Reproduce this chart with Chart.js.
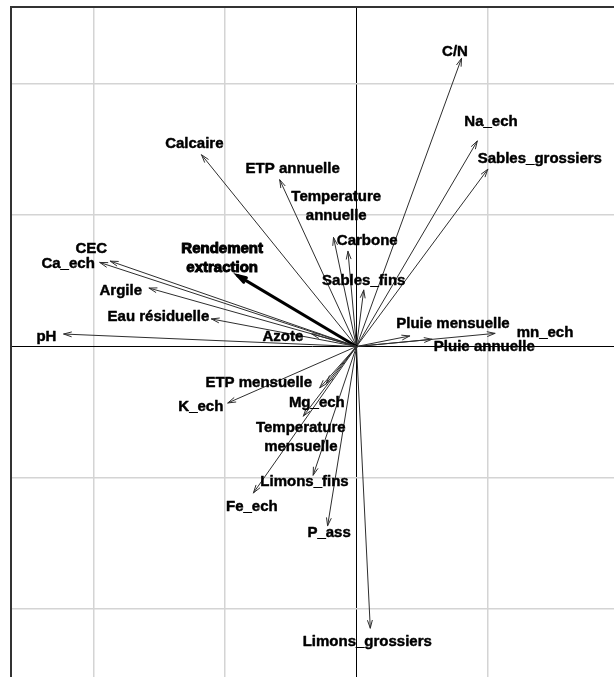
<!DOCTYPE html>
<html>
<head>
<meta charset="utf-8">
<script src="https://cdn.jsdelivr.net/npm/chart.js@4/dist/chart.umd.min.js"></script>
<style>
  html, body { margin: 0; padding: 0; background: #fff; overflow: hidden; }
  #wrap { width: 614px; height: 677px; }
</style>
</head>
<body>
<div id="wrap"><canvas id="c" width="614" height="677"></canvas></div>
<script>
// ---- data (PCA correlation arrows, axis 1 / axis 2) ----
const variables = ["C/N","Na_ech","Sables_grossiers","Calcaire","ETP annuelle","Temperature annuelle","Carbone","Sables_fins","Rendement extraction","CEC","Ca_ech","Argile","Eau résiduelle","pH","Azote","Pluie mensuelle","Pluie annuelle","mn_ech","ETP mensuelle","K_ech","Mg_ech","Temperature mensuelle","Limons_fins","Fe_ech","P_ass","Limons_grossiers"];
const axis1 = [0.160,0.184,0.200,-0.236,-0.117,-0.035,-0.013,0.011,-0.181,-0.375,-0.391,-0.316,-0.221,-0.446,-0.068,0.081,0.115,0.211,-0.056,-0.196,-0.046,-0.081,-0.066,-0.157,-0.044,0.021];
const axis2 = [0.439,0.313,0.270,0.292,0.254,0.166,0.145,0.086,0.108,0.130,0.128,0.089,0.042,0.019,0.019,0.016,0.011,0.020,-0.063,-0.086,-0.056,-0.106,-0.196,-0.223,-0.273,-0.429];
const gridStep = 0.2;
const highlighted = "Rendement extraction";
const twoLineLabels = ["Temperature annuelle","Rendement extraction","Temperature mensuelle"];

// ---- layout (label centre offsets from the arrow tip, px) ----
const labelOffsets = [[-6.5,-6.3],[13.7,-19],[52,-10.3],[-7.2,-11],[13,-10.7],[2.7,-31],[19.3,-10.3],[0,-9.3],[-15.5,-17.2],[-19,-12],[-31.7,1.3],[-28.3,2.4],[-53,-1.7],[-17.3,3],[-29,2.7],[43.3,-12],[52.3,7.4],[50,-1],[-61,-4.7],[-27,3.7],[-9.5,19.7],[-2.5,21.2],[-8.7,6.7],[-1.6,14],[1.5,7.3],[-3,13.4]];

const points = variables.map((v, i) => ({ x: axis1[i], y: axis2[i] }));

const arrowPlugin = {
  id: 'arrows',
  beforeDraw(chart) {
    const c = chart.ctx;
    c.save();
    c.fillStyle = '#fff';
    c.fillRect(0, 0, chart.width, chart.height);
    c.restore();
  },
  afterDatasetsDraw(chart) {
    const c = chart.ctx;
    const xs = chart.scales.x, ys = chart.scales.y;
    const ox = xs.getPixelForValue(0), oy = ys.getPixelForValue(0);
    const meta = chart.getDatasetMeta(0);
    const area = chart.chartArea;
    // frame (left and top edges visible in the crop)
    c.save();
    c.strokeStyle = '#333';
    c.lineWidth = 2;
    c.beginPath();
    c.moveTo(area.left, chart.height);
    c.lineTo(area.left, area.top);
    c.lineTo(chart.width, area.top);
    c.stroke();
    c.restore();
    // arrows
    meta.data.forEach((el, i) => {
      const tx = el.x, ty = el.y;
      const hl = variables[i] === highlighted;
      c.save();
      c.strokeStyle = hl ? '#000' : '#2e2e2e';
      c.lineWidth = hl ? 3 : 1;
      c.lineCap = 'round';
      c.beginPath();
      c.moveTo(ox, oy);
      c.lineTo(tx, ty);
      c.stroke();
      const ang = Math.atan2(ty - oy, tx - ox);
      const L = hl ? 9 : 8, a = 17 * Math.PI / 180;
      c.beginPath();
      c.moveTo(tx - L * Math.cos(ang - a), ty - L * Math.sin(ang - a));
      c.lineTo(tx, ty);
      c.lineTo(tx - L * Math.cos(ang + a), ty - L * Math.sin(ang + a));
      c.stroke();
      c.restore();
    });
    // labels
    meta.data.forEach((el, i) => {
      const name = variables[i];
      const hl = name === highlighted;
      const lines = twoLineLabels.includes(name) ? name.split(' ') : [name];
      const cx = el.x + labelOffsets[i][0];
      const cy = el.y + labelOffsets[i][1];
      c.save();
      c.font = 'bold 15px "Liberation Sans", Arial, sans-serif';
      c.textAlign = 'center';
      c.textBaseline = 'middle';
      c.fillStyle = '#000';
      c.strokeStyle = '#000';
      c.lineJoin = 'round';
      c.lineWidth = hl ? 1.0 : 0.45;
      const lh = 19;
      lines.forEach((t, k) => {
        const yy = cy + (k - (lines.length - 1) / 2) * lh;
        c.strokeText(t, cx, yy);
        c.fillText(t, cx, yy);
      });
      c.restore();
    });
  }
};

// pixel geometry of the view (one grid step = 131.3 px)
const pxPerUnit = 131.3 / gridStep;
const originPx = { x: 356.5, y: 346.5 };
const padLeft = 11, padTop = 7;

const gridColor = ctx => (Math.abs(ctx.tick.value) < 1e-9 ? '#000' : '#d4d4d4');
const gridWidth = ctx => (Math.abs(ctx.tick.value) < 1e-9 ? 1 : 1.5);

new Chart(document.getElementById('c'), {
  type: 'scatter',
  data: { datasets: [{ data: points, pointRadius: 0, pointHoverRadius: 0, showLine: false }] },
  plugins: [arrowPlugin],
  options: {
    responsive: false,
    animation: false,
    devicePixelRatio: 1,
    layout: { padding: { left: padLeft, top: padTop, right: 0, bottom: 0 } },
    plugins: { legend: { display: false }, tooltip: { enabled: false } },
    events: [],
    scales: {
      x: {
        type: 'linear',
        min: (padLeft - originPx.x) / pxPerUnit,
        max: (614 - originPx.x) / pxPerUnit,
        ticks: { display: false, stepSize: gridStep, includeBounds: false },
        grid: { color: gridColor, lineWidth: gridWidth, drawTicks: false },
        border: { display: false }
      },
      y: {
        type: 'linear',
        min: (originPx.y - 677) / pxPerUnit,
        max: (originPx.y - padTop) / pxPerUnit,
        ticks: { display: false, stepSize: gridStep, includeBounds: false },
        grid: { color: gridColor, lineWidth: gridWidth, drawTicks: false },
        border: { display: false }
      }
    }
  }
});
</script>
</body>
</html>
